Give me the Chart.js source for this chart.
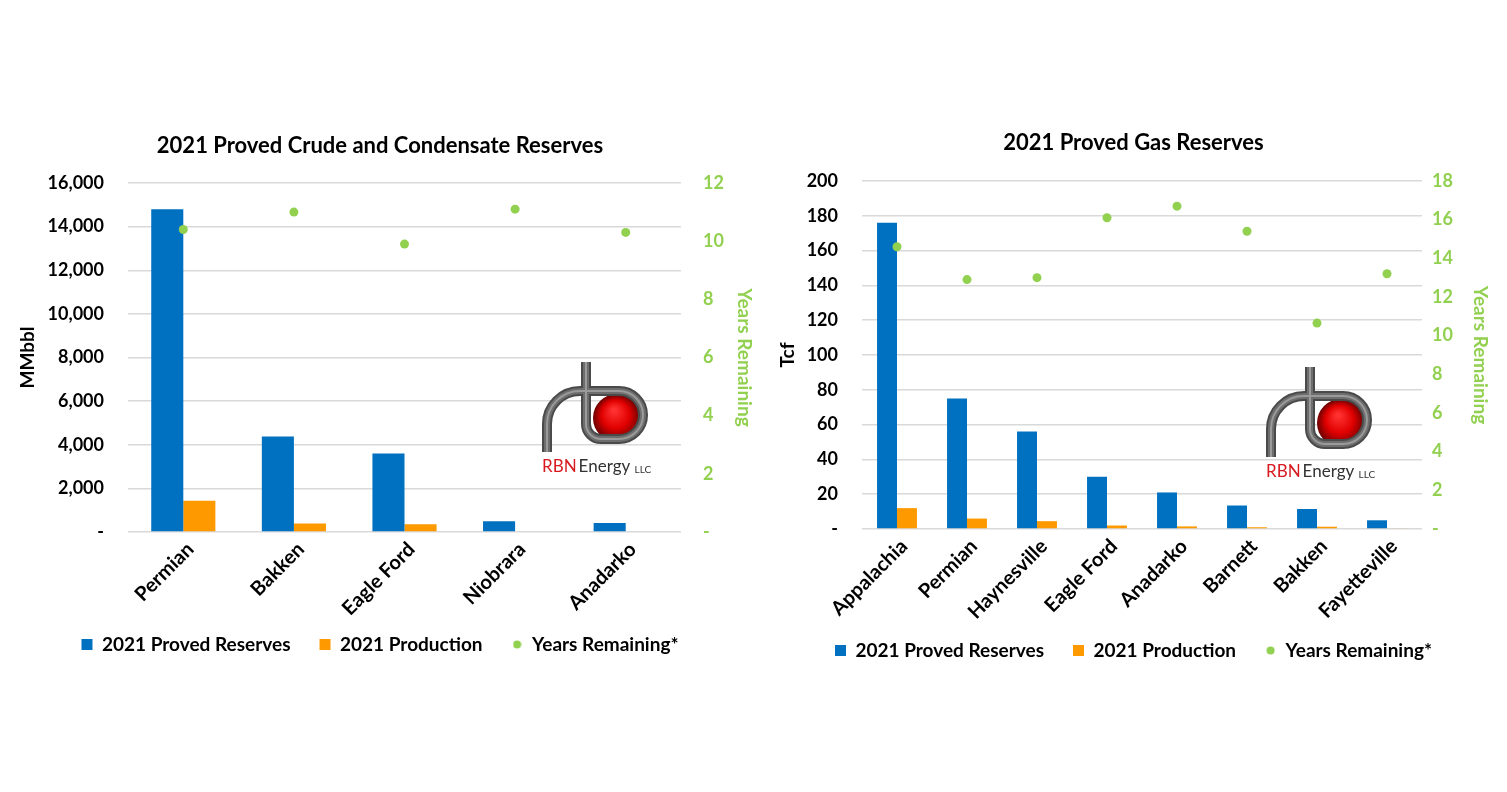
<!DOCTYPE html>
<html>
<head>
<meta charset="utf-8">
<script src="https://cdn.jsdelivr.net/npm/chart.js@4.4.1/dist/chart.umd.min.js"></script>
<style>
  html,body{margin:0;padding:0;background:#fff;overflow:hidden;}
  #wrap{position:relative;width:1507px;height:792px;}
  canvas{position:absolute;}
</style>
</head>
<body>
<div id="wrap">
  <canvas id="crude" width="760" height="554" style="left:0;top:110px"></canvas>
  <canvas id="gas" width="747" height="560" style="left:760px;top:110px"></canvas>
</div>
<script>
// series names shared by both charts
const seriesNames = ['2021 Proved Reserves', '2021 Production', 'Years Remaining*'];

// crude chart (MMbbl)
const crudeBasins = ['Permian', 'Bakken', 'Eagle Ford', 'Niobrara', 'Anadarko'];
const crudeReserves = [14800, 4380, 3600, 490, 415];
const crudeProduction = [1430, 385, 355, 40, 40];
const crudeYears = [10.4, 11.0, 9.9, 11.1, 10.3];

// gas chart (Tcf)
const gasBasins = ['Appalachia', 'Permian', 'Haynesville', 'Eagle Ford', 'Anadarko', 'Barnett', 'Bakken', 'Fayetteville'];
const gasReserves = [176, 75, 56, 30, 21, 13.5, 11.5, 5];
const gasProduction = [12, 6, 4.5, 2, 1.5, 1, 1.3, 0.4];
const gasYears = [14.6, 12.9, 13.0, 16.1, 16.7, 15.4, 10.65, 13.2];

const BLUE = '#0070C0', ORANGE = '#FF9900', GREEN = '#92D050', GRID = '#d9d9d9';
const FONT = 'Lato, "Open Sans", sans-serif';

function dash(v){ return v === 0 ? '-' : v.toLocaleString('en-US'); }

// small dot for the legend
const legendDot = document.createElement('canvas');
legendDot.width = 9; legendDot.height = 9;
(function(){ const c = legendDot.getContext('2d'); c.fillStyle = GREEN; c.beginPath(); c.arc(4.5,4.5,4,0,Math.PI*2); c.fill(); })();

// RBN logo, drawn on top of the chart; (sx, sy) is the top of the stem
function drawLogo(ctx, sx, sy){
  ctx.save();
  // red ball inside the bowl
  const g = ctx.createRadialGradient(sx+28, sy+48, 2, sx+31, sy+57, 26);
  g.addColorStop(0, '#ff3030'); g.addColorStop(0.5, '#e00000'); g.addColorStop(1, '#500000');
  ctx.fillStyle = g;
  ctx.beginPath(); ctx.arc(sx+31, sy+56, 24, 0, Math.PI*2); ctx.fill();
  // one tube: left leg, arch, bowl, back up the stem
  const tube = new Path2D();
  tube.moveTo(sx-39, sy+90);
  tube.lineTo(sx-39, sy+62);
  tube.arcTo(sx-39, sy+29, sx-10, sy+29, 33);
  tube.lineTo(sx+33, sy+29);
  tube.arc(sx+33, sy+53, 24, -Math.PI/2, Math.PI/2);
  tube.lineTo(sx+15, sy+77);
  tube.arcTo(sx, sy+77, sx, sy+60, 15);
  tube.lineTo(sx, sy);
  ctx.lineJoin = 'round';
  [[10,'#4a4a4a'],[6,'#6e6e6e'],[2,'#9a9a9a']].forEach(([w,c]) => {
    ctx.lineWidth = w; ctx.strokeStyle = c; ctx.stroke(tube);
  });
  ctx.textBaseline = 'middle';
  ctx.font = '17px ' + FONT;
  ctx.fillStyle = '#d71920';
  ctx.fillText('RBN', sx-44, sy+105);
  let w = ctx.measureText('RBN').width + 2;
  ctx.fillStyle = '#333';
  ctx.fillText('Energy', sx-44+w, sy+105);
  w += ctx.measureText('Energy ').width;
  ctx.font = '10px ' + FONT;
  ctx.fillText('LLC', sx-44+w, sy+108);
  ctx.restore();
}

// category names at 45 degrees, placed at the x scale's own tick pixels
// (drawn here so the long names are not clipped to the short axis box)
function drawCategoryLabels(chart){
  const xs = chart.scales.x, ctx = chart.ctx, y0 = chart.chartArea.bottom;
  ctx.save();
  ctx.font = 'bold 20px ' + FONT;
  ctx.fillStyle = '#000';
  ctx.textAlign = 'right';
  ctx.textBaseline = 'middle';
  chart.data.labels.forEach((lab, i) => {
    ctx.save();
    ctx.translate(xs.getPixelForValue(i) + 7, y0 + 14);
    ctx.rotate(-Math.PI / 4);
    ctx.fillText(lab, 0, 0);
    ctx.restore();
  });
  ctx.restore();
}

function makeChart(id, o){
  const tickFont = {family: FONT, size: 18, weight: 'bold'};
  return new Chart(document.getElementById(id), {
    type: 'bar',
    data: {
      labels: o.labels,
      datasets: [
        {label: seriesNames[0], data: o.reserves, backgroundColor: BLUE, borderWidth: 0, yAxisID: 'y', order: 1, pointStyle: 'rect'},
        {label: seriesNames[1], data: o.production, backgroundColor: ORANGE, borderWidth: 0, yAxisID: 'y', order: 1, pointStyle: 'rect'},
        {type: 'line', label: seriesNames[2], data: o.years, yAxisID: 'y1', showLine: false, order: 0,
         pointRadius: 4.5, pointBorderWidth: 0, borderWidth: 0, backgroundColor: GREEN, borderColor: GREEN, pointStyle: 'circle'}
      ]
    },
    options: {
      responsive: false,
      animation: false,
      layout: {padding: 0},
      datasets: {bar: {categoryPercentage: o.catPct, barPercentage: 1}},
      plugins: {
        tooltip: {enabled: false},
        title: {display: true, text: o.title, color: '#000',
                font: {family: FONT, size: 22, weight: 'bold'}, padding: {top: o.titleTop, bottom: o.titleBottom}},
        legend: {
          position: 'bottom',
          labels: {
            usePointStyle: true, boxHeight: 11, boxWidth: 11, padding: 29, color: '#000',
            font: {family: FONT, size: 19, weight: 'bold'},
            sort: (a, b) => a.datasetIndex - b.datasetIndex,
            generateLabels(chart){
              const items = Chart.defaults.plugins.legend.labels.generateLabels(chart);
              items.forEach(it => { if (it.datasetIndex === 2) it.pointStyle = legendDot; it.lineWidth = 0; });
              return items;
            }
          }
        }
      },
      scales: {
        x: {
          grid: {display: false}, border: {display: false},
          ticks: {display: false},
          afterFit(s){ s.height = o.xH; }
        },
        y: {
          position: 'left', min: 0, max: o.yMax,
          ticks: {stepSize: o.yStep, color: '#000', font: tickFont, padding: o.yPad, callback: dash},
          grid: {color: GRID, drawTicks: false, lineWidth: 1.5}, border: {display: false},
          title: {display: true, text: o.yTitle, color: '#000', font: {family: FONT, size: 19, weight: 'bold'}, padding: {top: o.yTitlePad}},
          afterFit(s){ s.width = o.yW; }
        },
        y1: {
          position: 'right', min: 0, max: o.y1Max,
          ticks: {stepSize: 2, color: GREEN, font: tickFont, padding: o.y1Pad, callback: dash},
          grid: {display: false, drawTicks: false}, border: {display: false},
          title: {display: true, text: 'Years Remaining', color: GREEN, font: {family: FONT, size: 19, weight: 'bold'}, padding: {top: o.y1TitlePad}},
          afterFit(s){ s.width = o.y1W; }
        }
      }
    },
    plugins: [{
      id: 'extras',
      afterDraw(chart){
        drawCategoryLabels(chart);
        drawLogo(chart.ctx, o.logoX, o.logoY);
      }
    }]
  });
}

makeChart('crude', {
  labels: crudeBasins, reserves: crudeReserves, production: crudeProduction, years: crudeYears,
  title: '2021 Proved Crude and Condensate Reserves', titleTop: 23, titleBottom: 23.6,
  yTitle: 'MMbbl', yMax: 16000, yStep: 2000, y1Max: 12,
  yW: 128, y1W: 79, yPad: 24, y1Pad: 22, yTitlePad: 16, y1TitlePad: 4,
  xH: 74, catPct: 0.58, logoX: 586, logoY: 252
});

makeChart('gas', {
  labels: gasBasins, reserves: gasReserves, production: gasProduction, years: gasYears,
  title: '2021 Proved Gas Reserves', titleTop: 20, titleBottom: 24.6,
  yTitle: 'Tcf', yMax: 200, yStep: 20, y1Max: 18,
  yW: 102, y1W: 85, yPad: 24, y1Pad: 10, yTitlePad: 16, y1TitlePad: 15,
  xH: 83, catPct: 0.57, logoX: 550, logoY: 257
});
</script>
</body>
</html>
